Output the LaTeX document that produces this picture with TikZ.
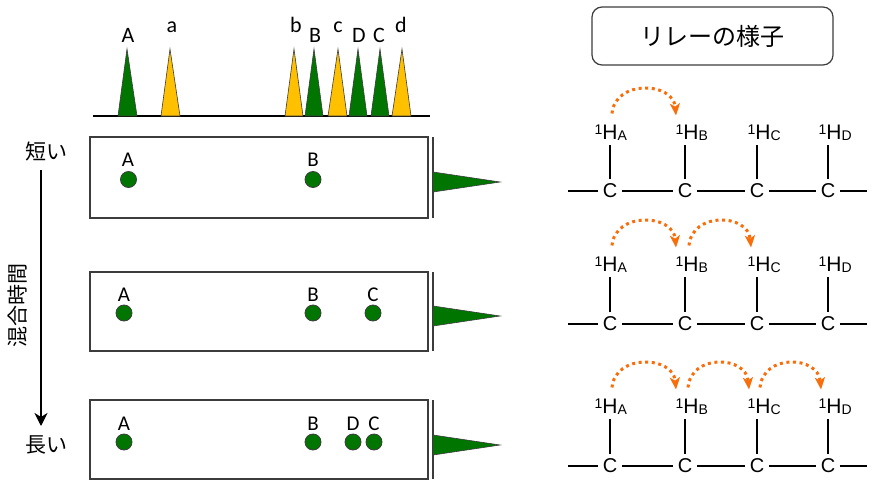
\documentclass[tikz,border=0pt]{standalone}
\usepackage{fontspec}
\setmainfont{Carlito}
\newfontfamily\jpfont{Noto Sans CJK JP}
\newfontfamily\arialfont{Liberation Sans}
\usetikzlibrary{arrows.meta}
\definecolor{pkgreen}{RGB}{0,118,0}
\definecolor{pkyellow}{RGB}{255,192,0}
\definecolor{relayorange}{RGB}{250,110,10}
\definecolor{edgegray}{RGB}{60,60,60}
\tikzset{
  peakg/.style={draw=edgegray, line width=0.6pt, fill=pkgreen},
  peaky/.style={draw=edgegray, line width=0.6pt, fill=pkyellow},
  speclbl/.style={font=\fontsize{22}{24}\selectfont, anchor=base, inner sep=0pt},
  boxlbl/.style={font=\fontsize{21}{24}\selectfont, anchor=base, inner sep=0pt},
  jp/.style={font=\jpfont\fontsize{21}{24}\selectfont, inner sep=0pt},
  plate/.style={draw=edgegray, line width=1.2pt},
  sideline/.style={draw=edgegray, line width=1.5pt},
  spot/.style={circle, fill=pkgreen, draw=edgegray, line width=0.8pt, minimum size=16pt, inner sep=0pt},
  Hatom/.style={font=\arialfont\fontsize{21}{24}\selectfont, inner xsep=0pt, inner ysep=5pt, text depth=0pt},
  Catom/.style={font=\arialfont\fontsize{20}{24}\selectfont, inner xsep=5pt, inner ysep=4.5pt},
  bond/.style={line width=1.2pt},
  relay/.style={relayorange, line width=3pt, dash pattern=on 3pt off 3.6pt,
    -{Stealth[length=12pt,width=10pt,inset=3pt]}},
}
\newcommand{\Hlab}[1]{\llap{\raisebox{5pt}{\fontsize{14}{14}\selectfont 1}}H\rlap{\raisebox{-1pt}{\fontsize{14}{14}\selectfont #1}}}
\begin{document}
\begin{tikzpicture}[x=1pt,y=-1pt]
\useasboundingbox (0,0) rectangle (877,495);
\fill[white] (0,0) rectangle (877,495);

% ---- top spectrum ----
\draw[line width=1.2pt] (93,116) -- (430,116);
\draw[peakg] (118,116) -- (127,49) -- (137,116) -- cycle;
\draw[peaky] (161,116) -- (170,49) -- (180,116) -- cycle;
\draw[peaky] (285,116) -- (294,49) -- (303,116) -- cycle;
\draw[peakg] (305,116) -- (314,49) -- (323,116) -- cycle;
\draw[peaky] (328,116) -- (338,49) -- (347,116) -- cycle;
\draw[peakg] (349,116) -- (358,49) -- (367,116) -- cycle;
\draw[peakg] (371,116) -- (380,49) -- (389,116) -- cycle;
\draw[peaky] (392,116) -- (402,49) -- (411,116) -- cycle;
\node[speclbl] (sA) at (128,42) {A};
\node[speclbl] (sa) at (172,33) {a};
\node[speclbl] (sb) at (296,33) {b};
\node[speclbl] (sB) at (315,42) {B};
\node[speclbl] (sc) at (338,33) {c};
\node[speclbl] (sD) at (359,42) {D};
\node[speclbl] (sC) at (379,42) {C};
\node[speclbl] (sd) at (401,33) {d};

% ---- plates ----
\draw[plate] (90,137) rectangle (428,218);
\draw[plate] (90,272) rectangle (428,351);
\draw[plate] (90,400) rectangle (428,479);
\draw[sideline] (433,137) -- (433,218);
\draw[sideline] (433,272) -- (433,351);
\draw[sideline] (433,400) -- (433,479);
\draw[peakg] (433,172) -- (500,182) -- (433,192) -- cycle;
\draw[peakg] (433,306) -- (500,316) -- (433,326) -- cycle;
\draw[peakg] (433,435) -- (500,445) -- (433,455) -- cycle;

% plate 1
\node[spot] (p1A) at (128.5,179.5) {};
\node[spot] (p1B) at (313,179.5) {};
\node[boxlbl] (l1A) at (128,166) {A};
\node[boxlbl] (l1B) at (313,166) {B};
% plate 2
\node[spot] (p2A) at (124,313) {};
\node[spot] (p2B) at (313,313) {};
\node[spot] (p2C) at (373,313) {};
\node[boxlbl] (l2A) at (124,301) {A};
\node[boxlbl] (l2B) at (313,301) {B};
\node[boxlbl] (l2C) at (373,301) {C};
% plate 3
\node[spot] (p3A) at (124,442) {};
\node[spot] (p3B) at (313,442) {};
\node[spot] (p3D) at (353,442) {};
\node[spot] (p3C) at (374,442) {};
\node[boxlbl] (l3A) at (124,430) {A};
\node[boxlbl] (l3B) at (313,430) {B};
\node[boxlbl] (l3D) at (353,430) {D};
\node[boxlbl] (l3C) at (374,430) {C};

% ---- mixing time axis ----
\node[jp] (short) at (46,152) {短い};
\node[jp] (long) at (46,445) {長い};
\node[jp, rotate=90] (mix) at (18,305) {混合時間};
\coordinate (axtop) at (41,170);
\coordinate (axbot) at (41,426);
\draw[line width=2pt, -{Stealth[length=13pt,width=13pt,inset=4pt]}] (axtop) -- (axbot);

% ---- title ----
\node[draw=edgegray, line width=1.2pt, rounded corners=10pt, minimum width=241pt, minimum height=58pt,
  font=\jpfont\fontsize{24}{28}\selectfont] (title) at (712.5,36) {リレーの様子};

% ---- relay rows ----
\foreach \r/\yc/\yh in {1/191/132, 2/324/264, 3/466/406}{
  \node[Catom] (c\r a) at (610,\yc) {C};
  \node[Catom] (c\r b) at (685,\yc) {C};
  \node[Catom] (c\r c) at (757,\yc) {C};
  \node[Catom] (c\r d) at (828,\yc) {C};
  \node[Hatom] (h\r a) at (610,\yh) {\Hlab{A}};
  \node[Hatom] (h\r b) at (691,\yh) {\Hlab{B}};
  \node[Hatom] (h\r c) at (763,\yh) {\Hlab{C}};
  \node[Hatom] (h\r d) at (834,\yh) {\Hlab{D}};
  \coordinate (L\r) at (568,\yc);
  \coordinate (R\r) at (867,\yc);
  \draw[bond] (L\r) -- (c\r a) -- (c\r b) -- (c\r c) -- (c\r d) -- (R\r);
  \draw[bond] (c\r a) -- (c\r a |- h\r a.south);
  \draw[bond] (c\r b) -- (c\r b |- h\r b.south);
  \draw[bond] (c\r c) -- (c\r c |- h\r c.south);
  \draw[bond] (c\r d) -- (c\r d |- h\r d.south);
}
\draw[relay] ([xshift=2pt,yshift=6pt]h1a.north) .. controls +(3pt,34pt) and +(-3pt,34pt) .. ([xshift=-15pt,yshift=4pt]h1b.north);
\draw[relay] ([xshift=2pt,yshift=6pt]h2a.north) .. controls +(3pt,34pt) and +(-3pt,34pt) .. ([xshift=-15pt,yshift=4pt]h2b.north);
\draw[relay] ([xshift=-2pt,yshift=6pt]h2b.north) .. controls +(3pt,34pt) and +(-3pt,34pt) .. ([xshift=-12pt,yshift=4pt]h2c.north);
\draw[relay] ([xshift=2pt,yshift=6pt]h3a.north) .. controls +(3pt,34pt) and +(-3pt,34pt) .. ([xshift=-15pt,yshift=4pt]h3b.north);
\draw[relay] ([xshift=-3pt,yshift=6pt]h3b.north) .. controls +(3pt,34pt) and +(-3pt,34pt) .. ([xshift=-14pt,yshift=4pt]h3c.north);
\draw[relay] ([xshift=-3pt,yshift=6pt]h3c.north) .. controls +(3pt,34pt) and +(-3pt,34pt) .. ([xshift=-13pt,yshift=4pt]h3d.north);
\end{tikzpicture}
\end{document}
